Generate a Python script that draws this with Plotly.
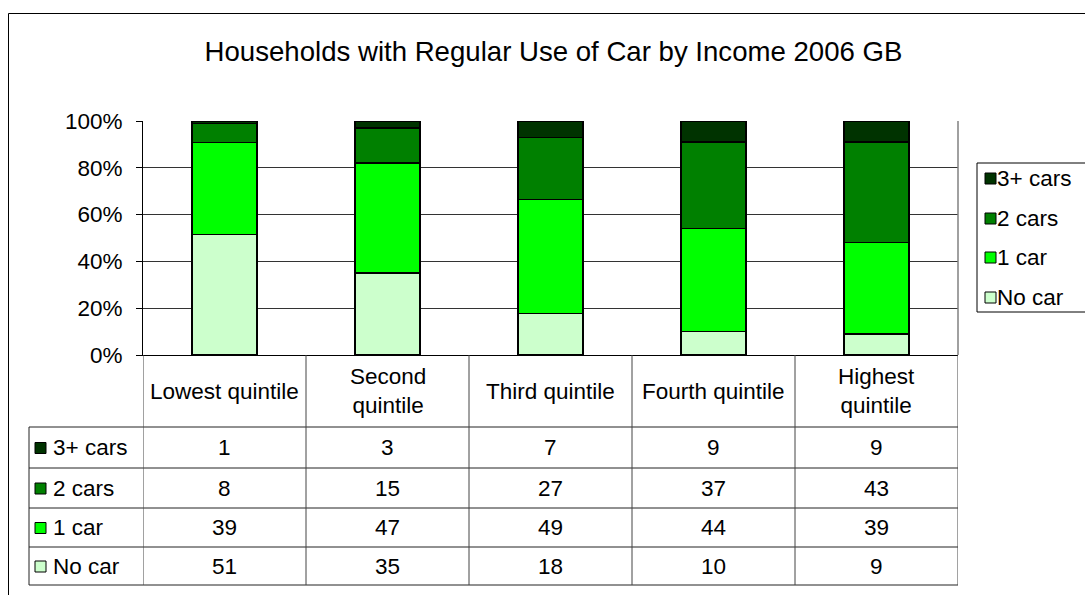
import plotly.graph_objects as go

# ---- data ----
categories = ["Lowest quintile", "Second quintile", "Third quintile", "Fourth quintile", "Highest quintile"]
header_labels = ["Lowest quintile", "Second<br>quintile", "Third quintile", "Fourth quintile", "Highest<br>quintile"]
series_names = ["No car", "1 car", "2 cars", "3+ cars"]
no_car = [51, 35, 18, 10, 9]
one_car = [39, 47, 49, 44, 39]
two_cars = [8, 15, 27, 37, 43]
three_cars = [1, 3, 7, 9, 9]
series_values = [no_car, one_car, two_cars, three_cars]
colors = ["#CCFFCC", "#00FF00", "#008000", "#003300"]
y_ticks = [0, 20, 40, 60, 80, 100]
y_tick_labels = ["0%", "20%", "40%", "60%", "80%", "100%"]

# ---- layout geometry (pixels) ----
FW, FH = 1085, 595
L, R, T, B = 143, 958, 121, 355
PW, PH = R - L, B - T
FONT = "Liberation Sans, Arial, sans-serif"
FS = 22.5

def px(x):
    return (x - L) / PW

def py(y):
    return (B - y) / PH

fig = go.Figure()
for name, vals, col in zip(series_names, series_values, colors):
    fig.add_trace(go.Bar(
        x=categories, y=vals, name=name,
        marker=dict(color=col, line=dict(color="#000000", width=1.3)),
        showlegend=False,
    ))

shapes = []
annotations = []

# outer chart border (extends past the viewport)
shapes.append(dict(type="rect", xref="paper", yref="paper",
                   x0=px(8.5), x1=px(1200), y0=py(13.5), y1=py(700),
                   line=dict(color="#000000", width=1), layer="below"))

# plot area right border
shapes.append(dict(type="line", xref="paper", yref="paper",
                   x0=1, x1=1, y0=0, y1=1, line=dict(color="#808080", width=1.5)))

# ---- data table ----
row_tops = [427, 468, 508, 547, 585]
line_col = "#222222"
for yy in row_tops:
    shapes.append(dict(type="line", xref="paper", yref="paper",
                       x0=px(29), x1=1, y0=py(yy), y1=py(yy),
                       line=dict(color=line_col, width=1)))
shapes.append(dict(type="line", xref="paper", yref="paper",
                   x0=px(29), x1=px(29), y0=py(427), y1=py(585),
                   line=dict(color=line_col, width=1)))
for i in range(len(categories) + 1):
    shapes.append(dict(type="line", xref="x", yref="paper",
                       x0=i - 0.5, x1=i - 0.5, y0=py(355), y1=py(585),
                       line=dict(color="#444444", width=1)))

# header labels
for cat, lab in zip(categories, header_labels):
    annotations.append(dict(xref="x", yref="paper", x=cat, y=py(391),
                            text=lab, showarrow=False, xanchor="center", yanchor="middle",
                            font=dict(family=FONT, size=FS, color="#000000")))

# table rows: top row is 3+ cars
row_centers = [447.5, 488, 527.5, 566]
rows_order = list(range(len(series_names)))[::-1]
for rc, si in zip(row_centers, rows_order):
    shapes.append(dict(type="rect", xref="paper", yref="paper",
                       x0=px(35), x1=px(46), y0=py(rc - 5), y1=py(rc + 6),
                       fillcolor=colors[si], line=dict(color="#000000", width=1)))
    annotations.append(dict(xref="paper", yref="paper", x=px(51), y=py(rc),
                            text=series_names[si], showarrow=False, xanchor="left", yanchor="middle",
                            font=dict(family=FONT, size=FS, color="#000000")))
    for cat, v in zip(categories, series_values[si]):
        annotations.append(dict(xref="x", yref="paper", x=cat, y=py(rc),
                                text=str(v), showarrow=False, xanchor="center", yanchor="middle",
                                font=dict(family=FONT, size=FS, color="#000000")))

# ---- legend (custom box) ----
shapes.append(dict(type="rect", xref="paper", yref="paper",
                   x0=px(977), x1=px(1200), y0=py(163), y1=py(312),
                   line=dict(color="#000000", width=1), fillcolor="#FFFFFF"))
legend_centers = [178, 218, 257, 297]
for lc, si in zip(legend_centers, rows_order):
    shapes.append(dict(type="rect", xref="paper", yref="paper",
                       x0=px(985), x1=px(996), y0=py(lc - 5), y1=py(lc + 6),
                       fillcolor=colors[si], line=dict(color="#000000", width=1)))
    annotations.append(dict(xref="paper", yref="paper", x=px(995), y=py(lc),
                            text=series_names[si], showarrow=False, xanchor="left", yanchor="middle",
                            font=dict(family=FONT, size=FS, color="#000000")))

fig.update_layout(
    width=FW, height=FH,
    margin=dict(l=L, r=FW - R, t=T, b=FH - B, autoexpand=False),
    barmode="stack", barnorm="percent", bargap=0.6,
    plot_bgcolor="#FFFFFF", paper_bgcolor="#FFFFFF",
    title=dict(text="Households with Regular Use of Car by Income 2006 GB",
               x=px(553.5), xref="paper", xanchor="center",
               y=1 - 51 / FH, yref="container", yanchor="middle",
               font=dict(family=FONT, size=27.6, color="#000000")),
    xaxis=dict(showticklabels=False, ticks="", showgrid=False, zeroline=False,
               showline=True, linecolor="#000000", linewidth=1,
               range=[-0.5, len(categories) - 0.5]),
    yaxis=dict(range=[0, 100], tickmode="array", tickvals=y_ticks, ticktext=y_tick_labels,
               ticks="outside", ticklen=6, tickcolor="#000000",
               showgrid=True, gridcolor="#333333", gridwidth=1,
               showline=True, linecolor="#000000", linewidth=1, zeroline=False,
               ticklabelstandoff=9,
               tickfont=dict(family=FONT, size=FS, color="#000000")),
    shapes=shapes,
    annotations=annotations,
)

fig.write_html("out.html")
